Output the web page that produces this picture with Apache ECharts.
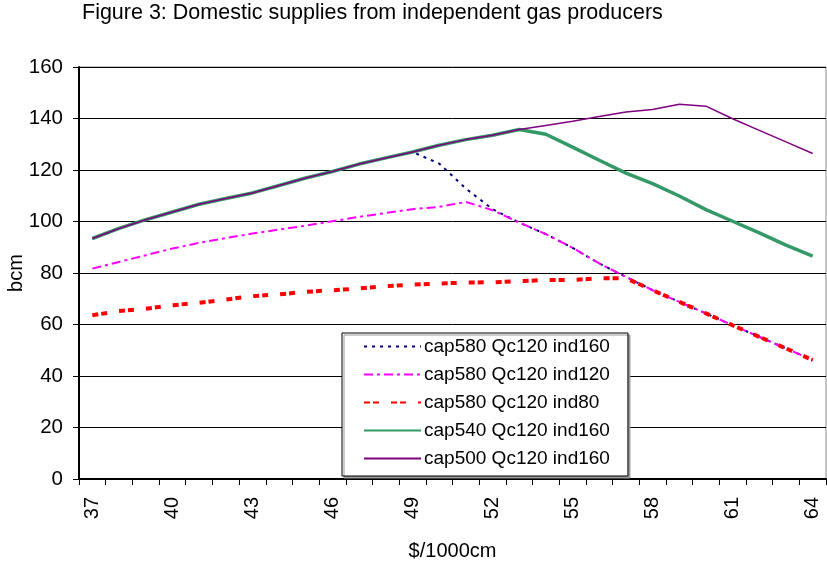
<!DOCTYPE html>
<html>
<head>
<meta charset="utf-8">
<script src="https://cdn.jsdelivr.net/npm/echarts@6/dist/echarts.min.js"></script>
<style>
html,body{margin:0;padding:0;background:#fff;}
#chart{width:827px;height:562px;}
</style>
</head>
<body>
<div id="chart"></div>
<script>
var categories = ['37','38','39','40','41','42','43','44','45','46','47','48','49','50','51','52','53','54','55','56','57','58','59','60','61','62','63','64'];
var seriesNames = ['cap580 Qc120 ind160','cap580 Qc120 ind120','cap580 Qc120 ind80','cap540 Qc120 ind160','cap500 Qc120 ind160'];
var cap580ind160 = [93.4,97.3,100.7,103.7,106.7,108.9,111.1,114.0,116.9,119.4,122.3,124.7,127.0,122.5,112.8,104.8,99.6,95.1,89.8,83.7,78.5,73.3,68.8,64.3,59.7,55.2,50.7,46.2];
var cap580ind120 = [81.7,84.3,86.9,89.5,91.7,93.6,95.3,96.9,98.4,100.1,101.8,103.3,104.8,105.7,107.6,104.4,99.6,95.1,89.8,83.7,78.5,73.3,68.8,64.3,59.7,55.2,50.7,46.2];
var cap580ind80 = [63.6,65.2,66.1,67.5,68.4,69.7,71.0,71.7,72.7,73.3,74.0,74.9,75.5,75.9,76.3,76.4,76.8,77.3,77.3,77.9,78.0,73.3,68.8,64.3,59.7,55.2,50.7,46.2];
var cap540ind160 = [93.4,97.3,100.7,103.7,106.7,108.9,111.1,114.0,116.9,119.4,122.3,124.7,127.0,129.6,131.8,133.5,135.7,133.9,128.9,123.8,118.8,114.7,109.9,104.6,100.1,95.6,90.8,86.6];
var cap500ind160 = [93.4,97.3,100.7,103.7,106.7,108.9,111.1,114.0,116.9,119.4,122.3,124.7,127.0,129.6,131.8,133.5,135.7,137.3,138.9,140.8,142.5,143.5,145.5,144.8,139.9,135.4,130.9,126.4];
var yTicks = {min:0, max:160, interval:20};

var FONT = "'Liberation Sans', Arial, sans-serif";
var chart = echarts.init(document.getElementById('chart'), null, {renderer:'canvas'});
var option = {
  animation: false,
  backgroundColor: '#ffffff',
  textStyle: {fontFamily: FONT, color: '#000'},
  title: {
    text: 'Figure 3: Domestic supplies from independent gas producers',
    left: 82, top: 2, padding: 0,
    textStyle: {fontFamily: FONT, fontSize: 21.5, fontWeight: 'normal', color: '#000'}
  },
  grid: {
    left: 79, right: 1, top: 67, bottom: 83,
    show: true, borderColor: '#888', borderWidth: 1, backgroundColor: 'transparent',
    containLabel: false,
    outerBoundsMode: 'none'
  },
  legend: {
    orient: 'vertical',
    left: 342, top: 333,
    padding: [4, 18, 8, 21],
    itemWidth: 57, itemHeight: 14, itemGap: 9,
    backgroundColor: '#fff',
    borderColor: '#000', borderWidth: 1,
    shadowColor: '#999', shadowOffsetX: 2, shadowOffsetY: 2, shadowBlur: 0,
    itemStyle: {opacity: 0},
    textStyle: {fontFamily: FONT, fontSize: 19, color: '#000', padding: [0,0,0,-2]},
    data: seriesNames
  },
  xAxis: {
    type: 'category',
    data: categories,
    boundaryGap: true,
    name: '$/1000cm',
    nameLocation: 'middle',
    nameGap: 62,
    nameTextStyle: {fontFamily: FONT, fontSize: 20, color: '#000'},
    axisLine: {show: true, lineStyle: {color: '#000', width: 2}},
    axisTick: {show: true, interval: 0, length: 6, lineStyle: {color: '#000', width: 1}},
    axisLabel: {interval: 2, rotate: 90, fontSize: 20, color: '#000', margin: 18, fontFamily: FONT},
    splitLine: {show: false}
  },
  yAxis: {
    type: 'value',
    min: yTicks.min, max: yTicks.max, interval: yTicks.interval,
    name: 'bcm',
    nameLocation: 'middle',
    nameGap: 53,
    nameMoveOverlap: false,
    nameTextStyle: {fontFamily: FONT, fontSize: 20, color: '#000'},
    axisLine: {show: true, lineStyle: {color: '#000', width: 2}},
    axisTick: {show: true, length: 6, lineStyle: {color: '#000', width: 1}},
    axisLabel: {fontSize: 20.5, color: '#000', margin: 16, fontFamily: FONT},
    splitLine: {show: true, lineStyle: {color: '#000', width: 1}}
  },
  series: [
    {name: seriesNames[0], type: 'line', data: cap580ind160, symbol: 'none', z: 2,
     lineStyle: {color: '#000080', width: 2, type: [3, 5]}, itemStyle: {color: '#000080'}},
    {name: seriesNames[1], type: 'line', data: cap580ind120, symbol: 'none', z: 3,
     lineStyle: {color: '#ff00ff', width: 2, type: [9, 4, 3, 4]}, itemStyle: {color: '#ff00ff'}},
    {name: seriesNames[2], type: 'line', data: cap580ind80, symbol: 'none', z: 4,
     lineStyle: {color: '#ff0000', width: 4, type: [6, 3, 6, 12]}, itemStyle: {color: '#ff0000'}},
    {name: seriesNames[3], type: 'line', data: cap540ind160, symbol: 'none', z: 5,
     lineStyle: {color: '#339966', width: 3.5, type: 'solid'}, itemStyle: {color: '#339966'}},
    {name: seriesNames[4], type: 'line', data: cap500ind160, symbol: 'none', z: 6,
     lineStyle: {color: '#800080', width: 1.5, type: 'solid'}, itemStyle: {color: '#800080'}}
  ]
};
chart.setOption(option);
</script>
</body>
</html>
